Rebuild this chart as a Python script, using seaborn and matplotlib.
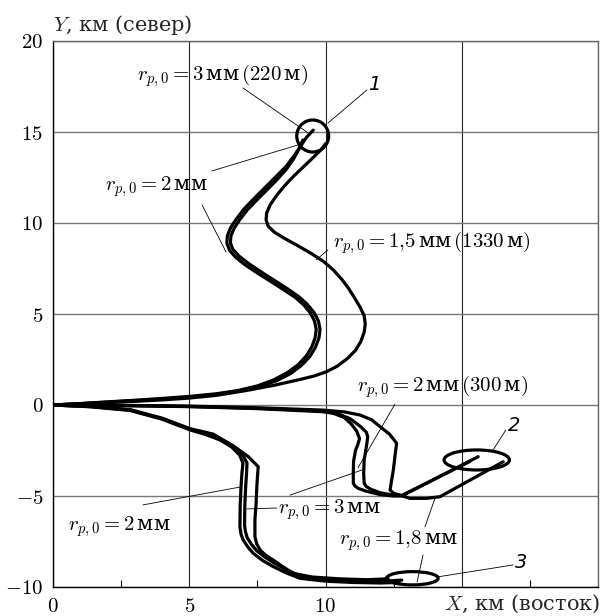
import numpy as np
import pandas as pd
import seaborn as sns
import matplotlib
matplotlib.use('Agg')
import matplotlib.pyplot as plt
from matplotlib import patches, ticker

# trajectories, km east (x) / km north (y)
up_3mm_x = [0, 1.0, 2.0, 3.0, 4.0, 5.0, 6.0, 6.8, 7.5, 8.1, 8.6, 9.0, 9.3, 9.5, 9.62, 9.66, 9.6, 9.45, 9.2, 8.9, 8.5, 8.0, 7.5, 7.05, 6.7, 6.48, 6.38, 6.4, 6.52, 6.72, 7.0, 7.35, 7.75, 8.15, 8.55, 8.85, 9.1, 9.3, 9.55]
up_3mm_y = [0, 0.08, 0.17, 0.26, 0.36, 0.47, 0.62, 0.8, 1.05, 1.38, 1.78, 2.22, 2.7, 3.2, 3.7, 4.15, 4.6, 5.05, 5.5, 5.9, 6.3, 6.78, 7.25, 7.7, 8.12, 8.5, 8.9, 9.3, 9.75, 10.2, 10.75, 11.3, 11.9, 12.5, 13.1, 13.7, 14.25, 14.7, 15.1]

up_2mm_x = [0, 1.0, 2.0, 3.0, 4.0, 5.0, 6.0, 6.8, 7.55, 8.2, 8.72, 9.12, 9.43, 9.63, 9.76, 9.8, 9.74, 9.58, 9.32, 9.02, 8.62, 8.12, 7.62, 7.18, 6.83, 6.6, 6.51, 6.53, 6.65, 6.85, 7.12, 7.47, 7.85, 8.22, 8.56, 8.82, 9.02, 9.17]
up_2mm_y = [0, 0.07, 0.16, 0.24, 0.33, 0.44, 0.58, 0.76, 1.0, 1.33, 1.73, 2.18, 2.67, 3.17, 3.68, 4.15, 4.62, 5.08, 5.55, 5.95, 6.37, 6.85, 7.33, 7.77, 8.18, 8.55, 8.92, 9.3, 9.72, 10.18, 10.7, 11.25, 11.82, 12.38, 12.95, 13.5, 14.05, 14.56]

up_15mm_x = [0, 1.0, 2.0, 3.0, 4.0, 5.0, 6.0, 7.11, 8.1, 9.06, 9.6, 10.04, 10.45, 10.8, 11.1, 11.3, 11.42, 11.46, 11.42, 11.28, 11.08, 10.85, 10.6, 10.3, 9.92, 9.45, 8.95, 8.5, 8.12, 7.9, 7.82, 7.84, 7.97, 8.2, 8.5, 8.85, 9.2, 9.55, 9.85, 10.0]
up_15mm_y = [0, 0.07, 0.13, 0.2, 0.28, 0.38, 0.53, 0.8, 1.08, 1.4, 1.6, 1.83, 2.15, 2.55, 3.0, 3.5, 4.0, 4.45, 4.9, 5.35, 5.85, 6.4, 6.9, 7.4, 7.9, 8.35, 8.78, 9.15, 9.5, 9.82, 10.16, 10.55, 11.0, 11.5, 12.05, 12.6, 13.1, 13.6, 14.05, 14.35]

low_a_x = [0, 1.4, 2.83, 4.0, 5.03, 5.6, 6.13, 6.55, 6.85, 6.97, 6.93, 6.9, 6.87, 6.86, 6.9, 6.98, 7.15, 7.35, 7.7, 8.08, 8.55, 9.06, 10.0, 11.0, 12.0, 12.7]
low_a_y = [0, -0.1, -0.3, -0.78, -1.37, -1.62, -1.92, -2.3, -2.75, -3.2, -3.8, -4.5, -5.5, -6.69, -7.1, -7.42, -7.8, -8.15, -8.55, -8.88, -9.22, -9.52, -9.68, -9.75, -9.78, -9.75]

low_b_x = [0, 1.4, 2.83, 4.0, 5.03, 5.6, 6.13, 6.6, 6.95, 7.12, 7.1, 7.07, 7.04, 7.03, 7.06, 7.13, 7.28, 7.47, 7.8, 8.15, 8.6, 9.06, 10.0, 11.0, 12.0, 12.8]
low_b_y = [0, -0.09, -0.28, -0.75, -1.34, -1.58, -1.87, -2.25, -2.7, -3.2, -3.8, -4.5, -5.5, -6.6, -6.95, -7.3, -7.65, -8.0, -8.38, -8.72, -9.08, -9.38, -9.6, -9.68, -9.7, -9.62]

low_c_x = [0, 1.4, 2.83, 4.0, 5.03, 5.88, 6.62, 7.17, 7.53, 7.5, 7.48, 7.45, 7.41, 7.41, 7.48, 7.6, 7.8, 8.08, 8.45, 8.82, 9.5, 10.5, 11.5, 12.3]
low_c_y = [0, -0.08, -0.25, -0.72, -1.3, -1.6, -2.25, -2.84, -3.39, -4.0, -4.49, -5.5, -6.32, -7.24, -7.65, -7.97, -8.25, -8.52, -8.9, -9.25, -9.45, -9.55, -9.6, -9.55]

east_a_x = [0, 2.5, 5.0, 7.5, 9.9, 10.3, 10.7, 10.95, 11.15, 11.25, 11.18, 11.1, 11.03, 11.02, 11.02, 11.08, 11.2, 11.5, 12.0, 12.5, 12.8, 15.6]
east_a_y = [0, -0.03, -0.09, -0.2, -0.37, -0.46, -0.7, -1.05, -1.45, -1.85, -2.2, -2.5, -3.1, -3.75, -4.3, -4.45, -4.58, -4.74, -4.92, -5.0, -5.0, -2.84]

east_b_x = [0, 2.5, 5.0, 7.5, 9.9, 10.4, 10.9, 11.3, 11.5, 11.55, 11.5, 11.42, 11.4, 11.42, 11.5, 11.65, 12.0, 12.4, 12.8, 15.3]
east_b_y = [0, -0.03, -0.08, -0.18, -0.33, -0.45, -0.75, -1.2, -1.5, -1.75, -2.3, -3.0, -3.75, -4.3, -4.48, -4.62, -4.82, -4.93, -4.97, -3.1]

east_18mm_x = [0, 2.5, 5.0, 7.5, 9.9, 10.7, 11.27, 11.7, 12.0, 12.35, 12.61, 12.55, 12.49, 12.42, 12.37, 12.5, 12.73, 13.1, 13.7, 14.2, 16.52]
east_18mm_y = [0, -0.02, -0.06, -0.15, -0.28, -0.38, -0.55, -0.82, -1.19, -1.6, -2.1, -2.8, -3.57, -4.2, -4.67, -4.85, -4.95, -5.13, -5.13, -5.04, -3.12]

curves = {
    "up_3mm": (up_3mm_x, up_3mm_y),
    "up_2mm": (up_2mm_x, up_2mm_y),
    "up_1.5mm": (up_15mm_x, up_15mm_y),
    "low_a": (low_a_x, low_a_y),
    "low_b": (low_b_x, low_b_y),
    "low_c": (low_c_x, low_c_y),
    "east_a": (east_a_x, east_a_y),
    "east_b": (east_b_x, east_b_y),
    "east_1.8mm": (east_18mm_x, east_18mm_y),
}

# end regions 1, 2, 3 (centre x, centre y, width, height)
zone_x = [9.53, 15.55, 13.19]
zone_y = [14.78, -3.02, -9.52]
zone_w = [1.17, 2.40, 1.89]
zone_h = [1.76, 1.10, 0.73]

# labels
label_text = [
    r"$r_{p,0}=3\,$мм$\,(220\,$м$)$",
    r"$r_{p,0}=2\,$мм",
    r"$r_{p,0}=1{,}5\,$мм$\,(1330\,$м$)$",
    r"$r_{p,0}=2\,$мм$\,(300\,$м$)$",
    r"$r_{p,0}=2\,$мм",
    r"$r_{p,0}=3\,$мм",
    r"$r_{p,0}=1{,}8\,$мм",
]
label_x = [3.08, 1.91, 10.28, 11.16, 0.55, 8.26, 14.86]
label_y = [18.08, 11.98, 8.90, 0.99, -6.70, -5.77, -7.47]
label_ha = ["left", "left", "left", "left", "left", "left", "right"]

zone_names = ["1", "2", "3"]
zone_lab_x = [11.78, 16.92, 17.17]
zone_lab_y = [17.6, -1.15, -8.68]

# leader lines: x0, y0, x1, y1
lead_x0 = [6.97, 11.52, 5.83, 5.47, 10.09, 12.55, 16.62, 7.12, 8.70, 3.30, 13.65, 13.58, 14.09]
lead_y0 = [17.42, 17.31, 12.86, 10.99, 8.52, 0.05, -1.37, -5.71, -4.95, -5.49, -6.70, -8.24, -9.45]
lead_x1 = [9.36, 10.09, 8.99, 6.35, 9.65, 11.19, 16.15, 8.22, 11.34, 6.86, 14.02, 13.36, 16.88]
lead_y1 = [14.95, 15.49, 14.29, 8.41, 7.97, -3.46, -2.47, -5.66, -3.57, -4.51, -5.11, -9.73, -8.79]

rows = []
for name, (xs, ys) in curves.items():
    for i, (xv, yv) in enumerate(zip(xs, ys)):
        rows.append({"curve": name, "order": i, "x": xv, "y": yv})
df = pd.DataFrame(rows)

sns.set_theme(style="white")
plt.rcParams['font.family'] = ['DejaVu Serif']
plt.rcParams['mathtext.fontset'] = 'cm'

fig = plt.figure(figsize=(6.04, 6.16), dpi=100)
ax = fig.add_axes([53 / 604, 1 - 587 / 616, 545 / 604, 546 / 616])

sns.lineplot(data=df, x="x", y="y", units="curve", estimator=None, sort=False,
             color="black", lw=2.3, legend=False, ax=ax,
             solid_joinstyle="round", solid_capstyle="round")

for cx, cy, w, h in zip(zone_x, zone_y, zone_w, zone_h):
    ax.add_patch(patches.Ellipse((cx, cy), w, h, fill=False, ec="black", lw=2.3, zorder=3))

for x0, y0, x1, y1 in zip(lead_x0, lead_y0, lead_x1, lead_y1):
    ax.plot([x0, x1], [y0, y1], color="black", lw=0.6)

for t, tx, ty, ha in zip(label_text, label_x, label_y, label_ha):
    ax.text(tx, ty, t, ha=ha, va="center", fontsize=15, color="black")

for t, tx, ty in zip(zone_names, zone_lab_x, zone_lab_y):
    ax.text(tx, ty, t, ha="center", va="center", fontsize=14, color="black",
            style="italic", family=["DejaVu Sans"])

ax.set_xlim(0, 20)
ax.set_ylim(-10, 20)
ax.set_xlabel("")
ax.set_ylabel("")
ax.set_xticks([0, 5, 10, 15, 20])
ax.set_xticklabels(["$0$", "$5$", "$10$", "", ""])
ax.set_yticks([-10, -5, 0, 5, 10, 15, 20])
ax.set_yticklabels([r"$-10$", r"$-5$", "$0$", "$5$", "$10$", "$15$", "$20$"])
ax.xaxis.set_minor_locator(ticker.FixedLocator([2.5, 7.5, 12.5, 17.5]))
ax.tick_params(axis="both", which="major", length=0, pad=7, labelsize=15, colors="black")
ax.tick_params(axis="x", which="minor", direction="in", length=5, width=0.8, color="black", bottom=True)

ax.xaxis.grid(True, color="#222222", lw=0.8)
ax.yaxis.grid(True, color="#777777", lw=1.0)
ax.set_axisbelow(True)
for side in ["left", "bottom"]:
    ax.spines[side].set_color("black")
    ax.spines[side].set_linewidth(1.0)
for side in ["top", "right"]:
    ax.spines[side].set_color("#666666")
    ax.spines[side].set_linewidth(1.0)

fig.text(53 / 604, 1 - 25 / 616, "$Y$, км (север)", ha="left", va="center", fontsize=15)
fig.text(600 / 604, 1 - 604 / 616, "$X$, км (восток)", ha="right", va="center", fontsize=15)

fig.savefig("out.png", dpi=100)
